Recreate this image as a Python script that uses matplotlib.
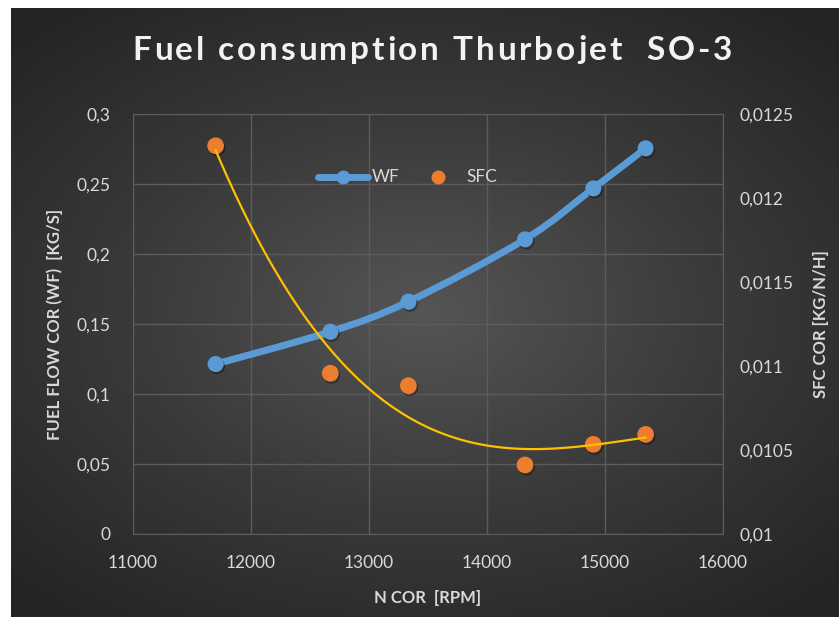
import numpy as np
import matplotlib.pyplot as plt
from matplotlib.path import Path
from matplotlib.patches import PathPatch
from matplotlib import font_manager
from matplotlib.ft2font import FT2Font
import matplotlib.patheffects as pe

# data
n_cor = [11700, 12672, 13334, 14322, 14901, 15344]
wf = [0.1214, 0.1445, 0.1660, 0.2105, 0.2469, 0.2755]
sfc = [0.012311, 0.010957, 0.010883, 0.010411, 0.010534, 0.010593]

x_ticks = [11000, 12000, 13000, 14000, 15000, 16000]
wf_ticks = [0, 0.05, 0.1, 0.15, 0.2, 0.25, 0.3]
wf_labels = ['0', '0,05', '0,1', '0,15', '0,2', '0,25', '0,3']
sfc_ticks = [0.01, 0.0105, 0.011, 0.0115, 0.012, 0.0125]
sfc_labels = ['0,01', '0,0105', '0,011', '0,0115', '0,012', '0,0125']
title = 'Fuel consumption Thurbojet  SO-3'

txt = '#d9d9d9'
grid = '#5c5c5c'
blue = '#5b9bd5'
orange = '#ed7d31'
gold = '#ffc000'
font = 'Lato'

fig = plt.figure(figsize=(8.39, 6.17), dpi=100)
fig.patch.set_facecolor('white')

# dark radial gradient background
bg = fig.add_axes([11 / 839, 0, 1 - 11 / 839, 1 - 8 / 617])
bg.set_axis_off()
yy, xx = np.mgrid[-1:1:300j, -1:1:400j]
r = np.sqrt((xx * 0.95) ** 2 + (yy * 1.05) ** 2)
cmap = plt.cm.colors.LinearSegmentedColormap.from_list('bg', ['#555555', '#3a3a3a', '#242424'])
bg.imshow(np.clip(r, 0, 1.35), cmap=cmap, aspect='auto', vmin=0, vmax=1.35,
          extent=[0, 1, 0, 1])

ax = fig.add_axes([133 / 839, 1 - 534 / 617, 590 / 839, 420 / 617])
ax.set_facecolor('none')
ax.set_xlim(11000, 16000)
ax.set_ylim(0, 0.3)
ax.set_xticks(x_ticks)
ax.set_xticklabels([str(v) for v in x_ticks])
ax.set_yticks(wf_ticks)
ax.set_yticklabels(wf_labels)
ax.grid(True, color=grid, lw=1)
ax.set_axisbelow(True)
for s in ax.spines.values():
    s.set_color(grid)
ax.tick_params(axis='y', length=0, colors=txt, labelsize=12.5, pad=16)
ax.tick_params(axis='x', length=0, colors=txt, labelsize=12.5, pad=15)
for lab in ax.get_xticklabels() + ax.get_yticklabels():
    lab.set_fontfamily(font)

# smoothed WF line (Catmull-Rom style curve through the points)
px, py = np.array(n_cor, float), np.array(wf, float)
verts = [(px[0], py[0])]
codes = [Path.MOVETO]
for i in range(len(px) - 1):
    p0 = i - 1 if i > 0 else i
    p3 = i + 2 if i + 2 < len(px) else i + 1
    c1 = (px[i] + (px[i + 1] - px[p0]) / 6, py[i] + (py[i + 1] - py[p0]) / 6)
    c2 = (px[i + 1] - (px[p3] - px[i]) / 6, py[i + 1] - (py[p3] - py[i]) / 6)
    verts += [c1, c2, (px[i + 1], py[i + 1])]
    codes += [Path.CURVE4] * 3
ax.add_patch(PathPatch(Path(verts, codes), fill=False, edgecolor=blue, lw=5,
                       capstyle='round'))
ax.plot(n_cor, wf, 'o', color=blue, ms=10.5, zorder=3,
        path_effects=[pe.SimpleLineShadow(offset=(1, -1.5), alpha=0.4), pe.Normal()])

ax2 = ax.twinx()
ax2.set_ylim(0.01, 0.0125)
ax2.set_yticks(sfc_ticks)
ax2.set_yticklabels(sfc_labels)
for s in ax2.spines.values():
    s.set_visible(False)
ax2.tick_params(length=0, colors=txt, labelsize=12.5, pad=12)
for lab in ax2.get_yticklabels():
    lab.set_fontfamily(font)

ax2.plot(n_cor, sfc, 'o', color=orange, ms=11, zorder=3,
         path_effects=[pe.SimpleLineShadow(offset=(1, -1.5), alpha=0.4), pe.Normal()])
# polynomial trendline of SFC
coef = np.polyfit(np.array(n_cor) / 1000, sfc, 3)
tx = np.linspace(n_cor[0], n_cor[-1], 200)
ax2.plot(tx, np.polyval(coef, tx / 1000), color=gold, lw=1.6, zorder=4)

ax.set_xlabel('N COR  [RPM]', color=txt, fontsize=12, fontweight='bold',
              fontfamily=font, labelpad=14)
ax.set_ylabel('FUEL FLOW COR (WF)  [KG/S]', color=txt, fontsize=12,
              fontweight='bold', fontfamily=font, labelpad=10)
ax2.set_ylabel('SFC COR [KG/N/H]', color=txt, fontsize=12, fontweight='bold',
               fontfamily=font, labelpad=14)

# title with letter spacing, placed char by char
tsize = 24
ft = FT2Font(font_manager.findfont(font_manager.FontProperties(family=font, weight='bold')))
ft.set_size(tsize, 100)
adv = [ft.load_char(ord(c)).linearHoriAdvance / 65536 for c in title]
target = 600
sp = (target - sum(adv)) / (len(title) - 1)
x0 = 432 - target / 2
for c, a in zip(title, adv):
    fig.text(x0 / 839, 1 - 50 / 617, c, color='#f2f2f2', fontsize=tsize,
             fontweight='bold', fontfamily=font, ha='left', va='center')
    x0 += a + sp

# legend
ly = 1 - 177 / 617
fig.add_artist(plt.Line2D([318 / 839, 368 / 839], [ly, ly], color=blue, lw=5,
                          solid_capstyle='round', transform=fig.transFigure))
fig.add_artist(plt.Line2D([343 / 839], [ly], marker='o', color=blue, ms=9,
                          transform=fig.transFigure))
fig.text(372 / 839, ly, 'WF', color=txt, fontsize=12.5, fontfamily=font, va='center')
fig.add_artist(plt.Line2D([438 / 839], [ly], marker='o', color=orange, ms=9, lw=0,
                          transform=fig.transFigure))
fig.text(466 / 839, ly, 'SFC', color=txt, fontsize=12.5, fontfamily=font, va='center')

fig.savefig('out.png', dpi=100, facecolor=fig.get_facecolor())
